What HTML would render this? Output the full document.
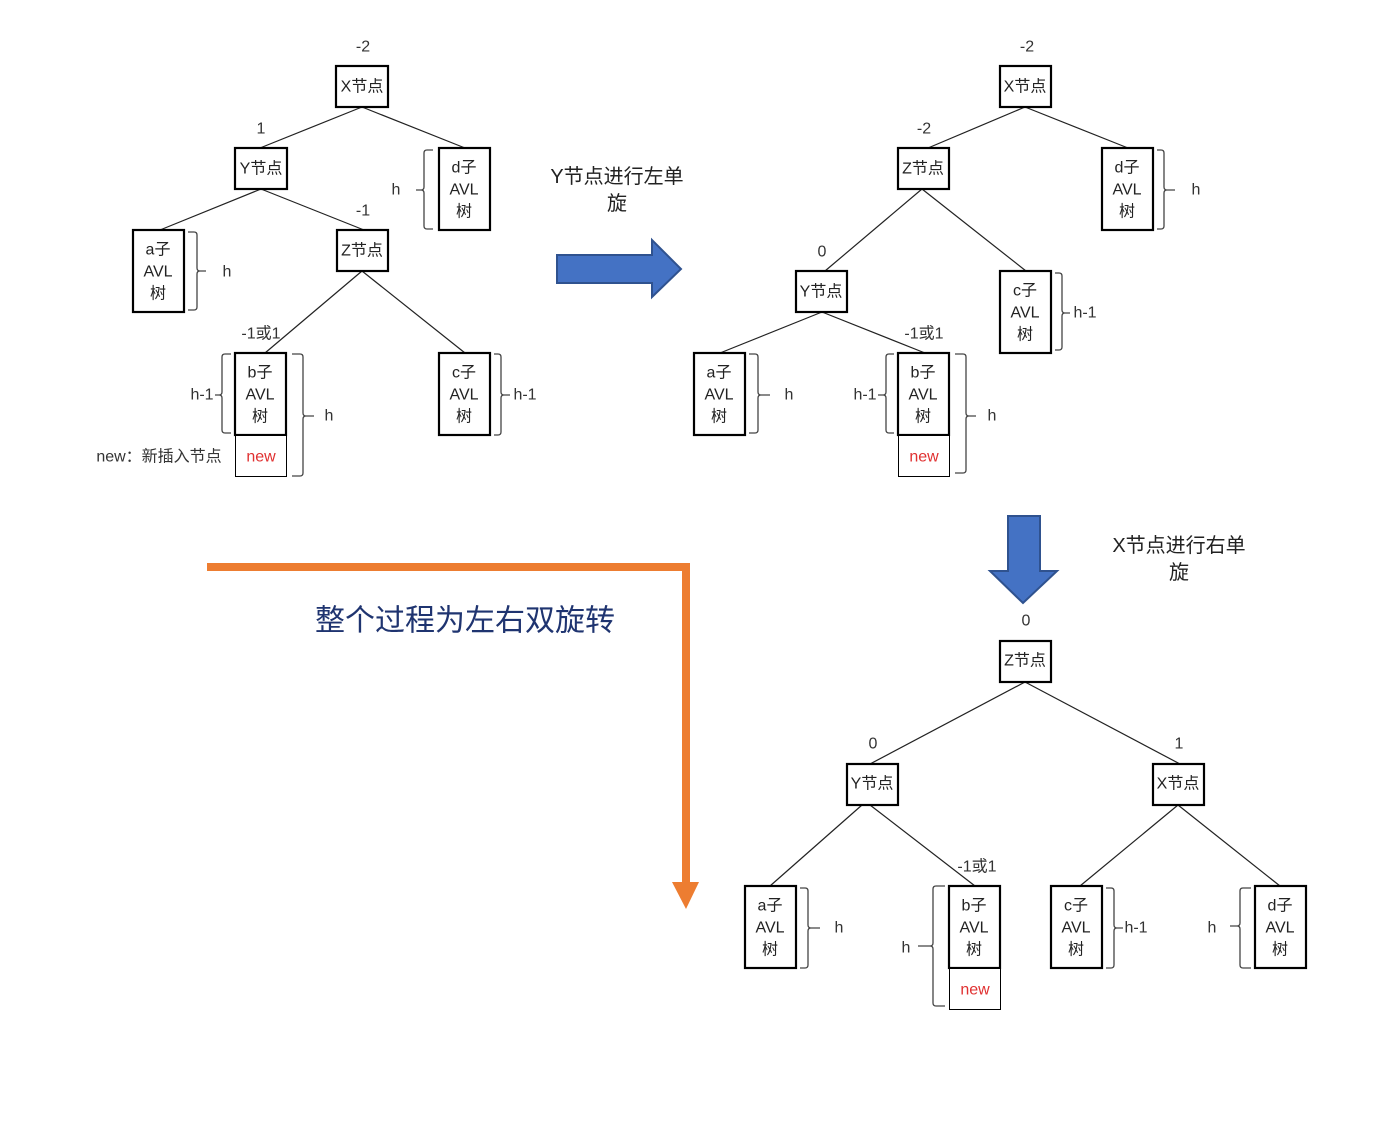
<!DOCTYPE html>
<html><head><meta charset="utf-8"><style>
html,body{margin:0;padding:0;background:#fff}
svg text{font-family:"Liberation Sans","Noto Sans CJK SC",sans-serif}
</style></head><body>
<svg width="1384" height="1128" viewBox="0 0 1384 1128" xmlns="http://www.w3.org/2000/svg">
<g stroke="#222" stroke-width="1.2" fill="none">
<!-- tree1 lines -->
<line x1="362" y1="107" x2="260" y2="148"/><line x1="362" y1="107" x2="465" y2="148"/>
<line x1="261" y1="189" x2="160" y2="230"/><line x1="261" y1="189" x2="364" y2="230"/>
<line x1="362" y1="271" x2="265" y2="353"/><line x1="362" y1="271" x2="465" y2="353"/>
<!-- tree2 lines -->
<line x1="1025" y1="107" x2="928" y2="148"/><line x1="1025" y1="107" x2="1128" y2="148"/>
<line x1="922" y1="189" x2="825" y2="271"/><line x1="922" y1="189" x2="1026" y2="271"/>
<line x1="822" y1="312" x2="720" y2="353"/><line x1="822" y1="312" x2="925" y2="353"/>
<!-- tree3 lines -->
<line x1="1025" y1="682" x2="870" y2="764"/><line x1="1025" y1="682" x2="1180" y2="764"/>
<line x1="862" y1="805" x2="770" y2="886"/><line x1="870" y1="805" x2="975" y2="886"/>
<line x1="1178" y1="805" x2="1080" y2="886"/><line x1="1178" y1="805" x2="1280" y2="886"/>
</g>
<!-- boxes -->
<g stroke="#000" stroke-width="2.2" fill="#fff">
<rect x="336" y="66" width="52" height="41"/>
<rect x="235" y="148" width="52" height="41"/>
<rect x="439" y="148" width="51" height="82"/>
<rect x="133" y="230" width="51" height="82"/>
<rect x="337" y="230" width="51" height="41"/>
<rect x="235" y="353" width="51" height="82"/>
<rect x="439" y="353" width="51" height="82"/>
<rect x="1000" y="66" width="51" height="41"/>
<rect x="898" y="148" width="51" height="41"/>
<rect x="1102" y="148" width="51" height="82"/>
<rect x="796" y="271" width="51" height="41"/>
<rect x="1000" y="271" width="51" height="82"/>
<rect x="694" y="353" width="51" height="82"/>
<rect x="898" y="353" width="51" height="82"/>
<rect x="1000" y="641" width="51" height="41"/>
<rect x="847" y="764" width="51" height="41"/>
<rect x="1153" y="764" width="51" height="41"/>
<rect x="745" y="886" width="51" height="82"/>
<rect x="949" y="886" width="51" height="82"/>
<rect x="1051" y="886" width="51" height="82"/>
<rect x="1255" y="886" width="51" height="82"/>
</g>
<g stroke="#000" stroke-width="1" fill="#fff">
<rect x="235.5" y="435.5" width="51" height="41"/>
<rect x="898.5" y="435.5" width="51" height="41"/>
<rect x="949.5" y="968.5" width="51" height="41"/>
</g>
<!-- brackets -->
<g stroke="#444" stroke-width="1.3" fill="none">
<path d="M433 150 h-6 q-3 0 -3 3 v34 q0 3 -3 3 h-5 M421 190 q3 0 3 3 v33 q0 3 3 3 h6"/>
<path d="M188 232 h6 q3 0 3 3 v33 q0 3 3 3 h6 M200 271 q-3 0 -3 3 v33 q0 3 -3 3 h-6"/>
<path d="M231 354 h-6 q-3 0 -3 3 v35 q0 3 -3 3 h-4 M219 395 q3 0 3 3 v32 q0 3 3 3 h6"/>
<path d="M292 354 h8 q3 0 3 3 v56 q0 3 3 3 h8 M306 416 q-3 0 -3 3 v54 q0 3 -3 3 h-8"/>
<path d="M494 354 h4 q3 0 3 3 v35 q0 3 3 3 h6 M504 395 q-3 0 -3 3 v34 q0 3 -3 3 h-4"/>
<path d="M1157 150 h4 q3 0 3 3 v34 q0 3 3 3 h8 M1167 190 q-3 0 -3 3 v33 q0 3 -3 3 h-4"/>
<path d="M1055 273 h4 q3 0 3 3 v34 q0 3 3 3 h5 M1065 313 q-3 0 -3 3 v31 q0 3 -3 3 h-4"/>
<path d="M749 354 h6 q3 0 3 3 v35 q0 3 3 3 h9 M761 395 q-3 0 -3 3 v32 q0 3 -3 3 h-6"/>
<path d="M894 354 h-5 q-3 0 -3 3 v35 q0 3 -3 3 h-5 M883 395 q3 0 3 3 v32 q0 3 3 3 h5"/>
<path d="M955 354 h8 q3 0 3 3 v56 q0 3 3 3 h7 M969 416 q-3 0 -3 3 v51 q0 3 -3 3 h-8"/>
<path d="M800 888 h5 q3 0 3 3 v34 q0 3 3 3 h9 M811 928 q-3 0 -3 3 v34 q0 3 -3 3 h-5"/>
<path d="M945 886 h-9 q-3 0 -3 3 v54 q0 3 -3 3 h-12 M930 946 q3 0 3 3 v54 q0 3 3 3 h9"/>
<path d="M1106 888 h5 q3 0 3 3 v34 q0 3 3 3 h6 M1117 928 q-3 0 -3 3 v34 q0 3 -3 3 h-5"/>
<path d="M1251 888 h-8 q-3 0 -3 3 v32 q0 3 -3 3 h-7 M1237 926 q3 0 3 3 v36 q0 3 3 3 h8"/>
</g>
<!-- arrows -->
<path d="M557 255 H652 V240 L681 269 L652 297 V283 H557 Z" fill="#4472C4" stroke="#2F528F" stroke-width="2"/>
<path d="M1008 516 H1040 V571 H1057 L1023 603 L990 571 H1008 Z" fill="#4472C4" stroke="#2F528F" stroke-width="2"/>
<polyline points="207,567 686,567 686,884" fill="none" stroke="#ED7D31" stroke-width="8"/>
<polygon points="672,882 699,882 686,909" fill="#ED7D31"/>
<!-- text -->
<g font-size="16" fill="#222" text-anchor="middle" dominant-baseline="central">
<text x="362" y="87">X节点</text><text x="261" y="169">Y节点</text><text x="362" y="251">Z节点</text>
<text x="1025" y="87">X节点</text><text x="923" y="169">Z节点</text><text x="821" y="292">Y节点</text>
<text x="1025" y="661">Z节点</text><text x="872" y="784">Y节点</text><text x="1178" y="784">X节点</text>
<g>
<text x="464" y="168">d子</text><text x="464" y="190">AVL</text><text x="464" y="212">树</text>
<text x="158" y="250">a子</text><text x="158" y="272">AVL</text><text x="158" y="294">树</text>
<text x="260" y="373">b子</text><text x="260" y="395">AVL</text><text x="260" y="417">树</text>
<text x="464" y="373">c子</text><text x="464" y="395">AVL</text><text x="464" y="417">树</text>
<text x="1127" y="168">d子</text><text x="1127" y="190">AVL</text><text x="1127" y="212">树</text>
<text x="1025" y="291">c子</text><text x="1025" y="313">AVL</text><text x="1025" y="335">树</text>
<text x="719" y="373">a子</text><text x="719" y="395">AVL</text><text x="719" y="417">树</text>
<text x="923" y="373">b子</text><text x="923" y="395">AVL</text><text x="923" y="417">树</text>
<text x="770" y="906">a子</text><text x="770" y="928">AVL</text><text x="770" y="950">树</text>
<text x="974" y="906">b子</text><text x="974" y="928">AVL</text><text x="974" y="950">树</text>
<text x="1076" y="906">c子</text><text x="1076" y="928">AVL</text><text x="1076" y="950">树</text>
<text x="1280" y="906">d子</text><text x="1280" y="928">AVL</text><text x="1280" y="950">树</text>
</g>
<g fill="#e03030"><text x="261" y="457">new</text><text x="924" y="457">new</text><text x="975" y="990">new</text></g>
<g fill="#333">
<text x="363" y="47">-2</text><text x="261" y="129">1</text><text x="363" y="211">-1</text><text x="261" y="334">-1或1</text>
<text x="396" y="190">h</text><text x="227" y="272">h</text><text x="202" y="395">h-1</text><text x="329" y="416">h</text><text x="525" y="395">h-1</text>
<text x="1027" y="47">-2</text><text x="924" y="129">-2</text><text x="822" y="252">0</text><text x="924" y="334">-1或1</text>
<text x="1196" y="190">h</text><text x="1085" y="313">h-1</text><text x="789" y="395">h</text><text x="865" y="395">h-1</text><text x="992" y="416">h</text>
<text x="1026" y="621">0</text><text x="873" y="744">0</text><text x="1179" y="744">1</text><text x="977" y="867">-1或1</text>
<text x="839" y="928">h</text><text x="906" y="948">h</text><text x="1136" y="928">h-1</text><text x="1212" y="928">h</text>
<text x="159" y="457">new：新插入节点</text>
</g>
</g>
<g font-size="20" fill="#222" text-anchor="middle" dominant-baseline="central">
<text x="617" y="177">Y节点进行左单</text><text x="617" y="204">旋</text>
<text x="1179" y="546">X节点进行右单</text><text x="1179" y="573">旋</text>
</g>
<text x="465" y="621" font-size="30" fill="#1F3470" text-anchor="middle" dominant-baseline="central">整个过程为左右双旋转</text>
</svg>
</body></html>
